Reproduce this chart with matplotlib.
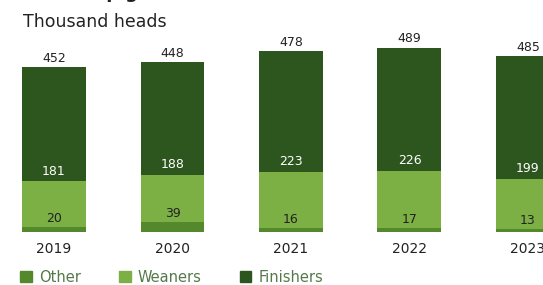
import numpy as np
import matplotlib
matplotlib.use('Agg')
import matplotlib.pyplot as plt
from matplotlib.patches import Patch

# values in thousand heads
years = ['2019', '2020', '2021', '2022', '2023']
other = [20, 39, 16, 17, 13]
weaners = [181, 188, 223, 226, 199]
finishers = [452, 448, 478, 489, 485]

c_other = '#53882d'
c_wean = '#7caf44'
c_fin = '#2c561e'

plt.rcParams['font.family'] = ['DejaVu Sans']

fig = plt.figure(figsize=(5.43, 2.85), dpi=100)
ax = fig.add_axes([0, 0.186, 1, 0.7074])

x = np.arange(len(years))
w = 0.54
other = np.array(other)
weaners = np.array(weaners)
finishers = np.array(finishers)

ax.bar(x, other, w, color=c_other)
ax.bar(x, weaners, w, bottom=other, color=c_wean)
ax.bar(x, finishers, w, bottom=other + weaners, color=c_fin)

for i in range(len(x)):
    ax.annotate(str(other[i]), (x[i], other[i]), xytext=(0, 1.5), textcoords='offset points',
                ha='center', va='bottom', fontsize=9, color='#222222')
    ax.annotate(str(weaners[i]), (x[i], other[i] + weaners[i]), xytext=(0, 2.5), textcoords='offset points',
                ha='center', va='bottom', fontsize=9, color='white')
    ax.annotate(str(finishers[i]), (x[i], other[i] + weaners[i] + finishers[i]), xytext=(0, 1.5),
                textcoords='offset points', ha='center', va='bottom', fontsize=9, color='#222222')
    ax.annotate(years[i], (x[i], 0), xytext=(0, -7), textcoords='offset points',
                ha='center', va='top', fontsize=10, color='#222222')

ax.set_xlim(-0.456, 4.127)
ax.set_ylim(0, 800)
ax.axis('off')

# title cut off at the top of the image
fig.text(0.29, 1.008, '(pigs)', ha='right', va='baseline', fontsize=13, fontweight='bold', color='#222222')
fig.text(0.042, 0.905, 'Thousand heads', ha='left', va='baseline', fontsize=12.5, color='#222222')

handles = [Patch(color=c_other, label='Other'),
           Patch(color=c_wean, label='Weaners'),
           Patch(color=c_fin, label='Finishers')]
leg = fig.legend(handles=handles, loc='lower left', bbox_to_anchor=(0.013, -0.045), ncol=3, frameon=False,
                 handlelength=0.8, handleheight=0.8, handletextpad=0.5, columnspacing=2.6, fontsize=10.5)
for t in leg.get_texts():
    t.set_color('#55794a')

fig.savefig('out.png', dpi=100)
